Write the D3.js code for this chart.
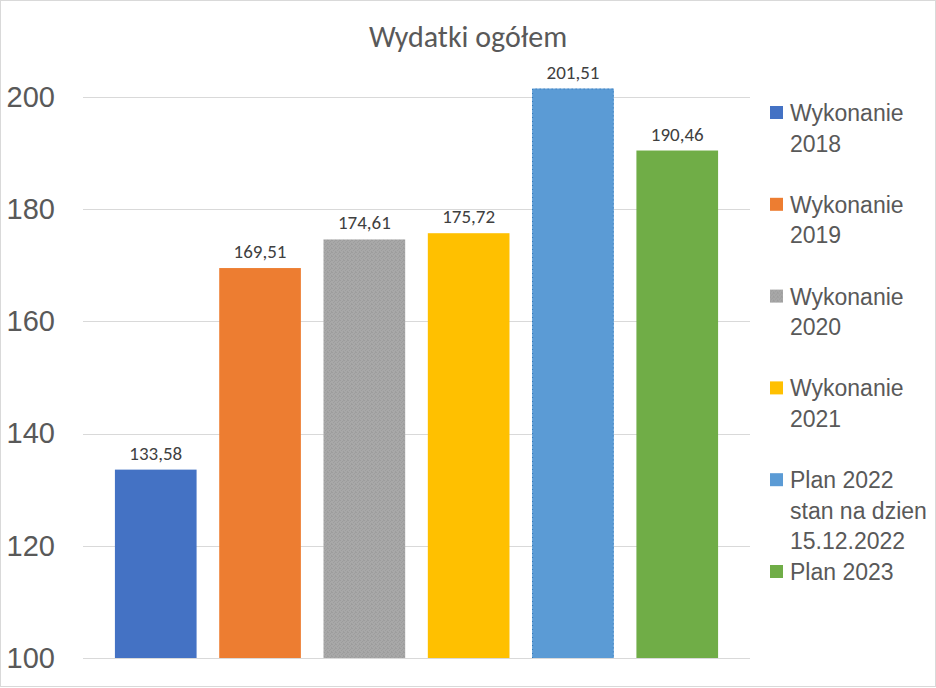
<!DOCTYPE html>
<html>
<head>
<meta charset="utf-8">
<script src="https://cdn.jsdelivr.net/npm/d3@7"></script>
<style>
  body { margin: 0; background: #fff; }
  svg { display: block; }
</style>
</head>
<body>
<div id="chart"></div>
<script>
// dane z wykresu
var series = ["Wykonanie 2018", "Wykonanie 2019", "Wykonanie 2020", "Wykonanie 2021", "Plan 2022 stan na dzien 15.12.2022", "Plan 2023"];
var values = [133.58, 169.51, 174.61, 175.72, 201.51, 190.46];
var legendLines = [["Wykonanie", "2018"], ["Wykonanie", "2019"], ["Wykonanie", "2020"], ["Wykonanie", "2021"], ["Plan 2022", "stan na dzien", "15.12.2022"], ["Plan 2023"]];
var yTicks = [100, 120, 140, 160, 180, 200];
var colors = ["#4472C4", "#ED7D31", "url(#grayTex)", "#FFC000", "#5B9BD5", "#70AD47"];

var width = 936, height = 688;
var plot = { left: 83, right: 750, top: 97, bottom: 658 };
var narrow = "Carlito, 'Liberation Sans Narrow', 'Roboto Condensed', sans-serif";
var sans = "'Liberation Sans', Arial, sans-serif";

var svg = d3.select("#chart").append("svg")
    .attr("width", width)
    .attr("height", height);

// tekstura szarego slupka
var defs = svg.append("defs");
var pat = defs.append("pattern")
    .attr("id", "grayTex")
    .attr("patternUnits", "userSpaceOnUse")
    .attr("width", 4)
    .attr("height", 4);
pat.append("rect").attr("width", 4).attr("height", 4).attr("fill", "#a8a8a8");
[[0, 0], [2, 1], [1, 2], [3, 3], [3, 0]].forEach(function(p) {
    pat.append("rect")
        .attr("x", p[0]).attr("y", p[1])
        .attr("width", 1).attr("height", 1)
        .attr("fill", "#9d9d9d");
});

// ramka wykresu
svg.append("rect")
    .attr("x", 0.5).attr("y", 0.5)
    .attr("width", width - 1).attr("height", height - 2)
    .attr("fill", "#fff")
    .attr("stroke", "#d9d9d9")
    .attr("stroke-width", 1);

var x = d3.scaleBand()
    .domain(series)
    .range([plot.left, plot.right])
    .paddingInner(0.217)
    .paddingOuter(0.306);

var y = d3.scaleLinear()
    .domain([100, 200])
    .range([plot.bottom, plot.top]);

// siatka
svg.append("g")
    .selectAll("line")
    .data(yTicks)
    .enter()
    .append("line")
    .attr("x1", plot.left)
    .attr("x2", plot.right)
    .attr("y1", function(d) { return Math.round(y(d)) + 0.5; })
    .attr("y2", function(d) { return Math.round(y(d)) + 0.5; })
    .attr("stroke", "#d9d9d9")
    .attr("stroke-width", 1);

// os Y
var yAxis = svg.append("g")
    .attr("transform", "translate(" + (plot.left - 28) + ",0)")
    .call(d3.axisLeft(y).tickValues(yTicks).tickSize(0).tickPadding(0));
yAxis.select(".domain").remove();
yAxis.selectAll("text")
    .attr("font-family", sans)
    .attr("font-size", 29)
    .attr("fill", "#595959");

// slupki
svg.append("g")
    .selectAll("rect")
    .data(values)
    .enter()
    .append("rect")
    .attr("x", function(d, i) { return x(series[i]); })
    .attr("width", x.bandwidth())
    .attr("y", function(d) { return y(d); })
    .attr("height", function(d) { return y(100) - y(d); })
    .attr("fill", function(d, i) { return colors[i]; });

// kropkowana obwodka slupka planu 2022
var i5 = 4;
svg.append("path")
    .attr("d", function() {
        var x0 = x(series[i5]) + 0.5, x1 = x(series[i5]) + x.bandwidth() - 0.5, y0 = y(values[i5]) + 0.5, yb = y(100);
        return "M" + x0 + "," + yb + "V" + y0 + "H" + x1 + "V" + yb;
    })
    .attr("fill", "none")
    .attr("stroke", "#2E75B6")
    .attr("stroke-width", 1)
    .attr("stroke-dasharray", "1,3");

// etykiety danych
svg.append("g")
    .selectAll("text")
    .data(values)
    .enter()
    .append("text")
    .attr("x", function(d, i) { return x(series[i]) + x.bandwidth() / 2; })
    .attr("y", function(d) { return y(d) - 10; })
    .attr("text-anchor", "middle")
    .attr("font-family", narrow)
    .attr("font-size", 19)
    .attr("fill", "#404040")
    .text(function(d) { return d.toFixed(2).replace(".", ","); });

// tytul
svg.append("text")
    .attr("x", 468)
    .attr("y", 47)
    .attr("text-anchor", "middle")
    .attr("font-family", narrow)
    .attr("font-size", 30)
    .attr("fill", "#595959")
    .text("Wydatki ogółem");

// legenda
var lineH = 30.6;
var legend = svg.append("g").attr("transform", "translate(770,0)");
var item = legend.selectAll("g")
    .data(legendLines)
    .enter()
    .append("g")
    .attr("transform", function(d, i) { return "translate(0," + (113 + i * 3 * lineH) + ")"; });
item.append("rect")
    .attr("x", 0)
    .attr("y", -7)
    .attr("width", 13)
    .attr("height", 13)
    .attr("fill", function(d, i) { return colors[i]; });
item.append("text")
    .attr("font-family", sans)
    .attr("font-size", 23)
    .attr("fill", "#595959")
    .selectAll("tspan")
    .data(function(d) { return d; })
    .enter()
    .append("tspan")
    .attr("x", 20)
    .attr("y", function(d, j) { return j * lineH + 8; })
    .text(function(d) { return d; });
</script>
</body>
</html>
